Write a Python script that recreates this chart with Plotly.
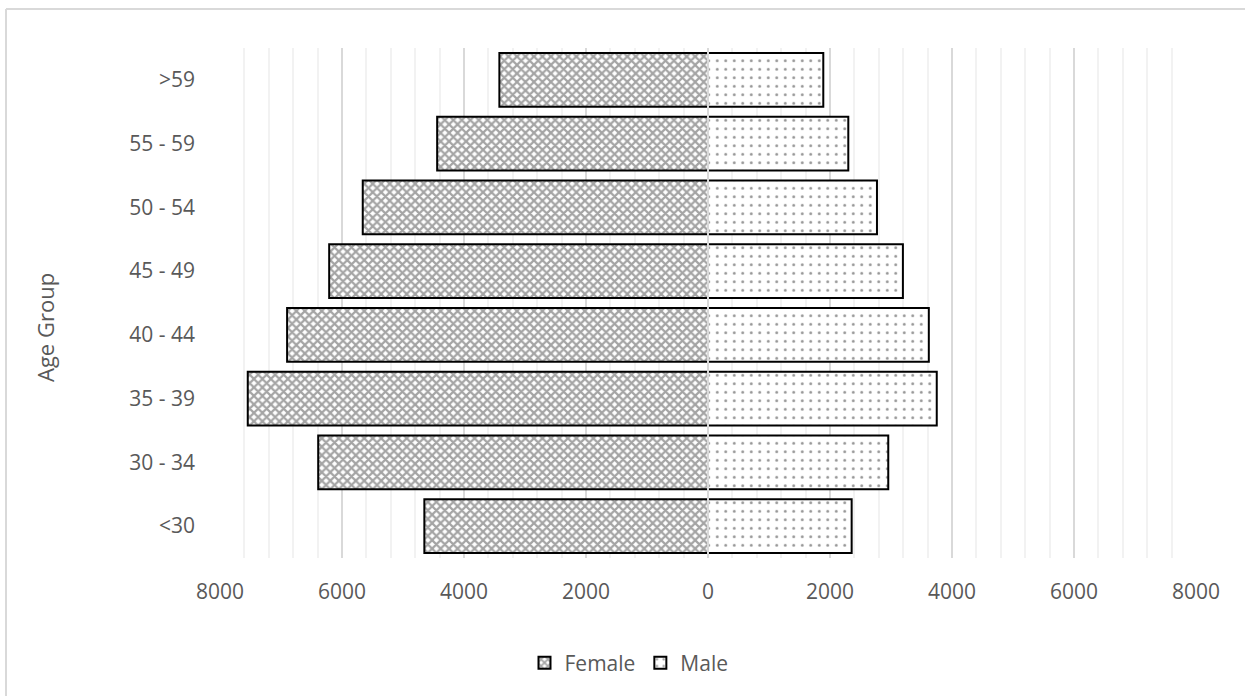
import plotly.graph_objects as go

# Age groups, bottom to top
age_groups = ["<30", "30 - 34", "35 - 39", "40 - 44", "45 - 49", "50 - 54", "55 - 59", ">59"]
female = [4650, 6390, 7545, 6900, 6210, 5660, 4440, 3420]
male = [2355, 2955, 3750, 3620, 3195, 2770, 2300, 1890]

tick_values = [-8000, -6000, -4000, -2000, 0, 2000, 4000, 6000, 8000]
tick_labels = ["8000", "6000", "4000", "2000", "0", "2000", "4000", "6000", "8000"]

FONT = "Open Sans"
TEXT_COLOR = "#595959"
FONT_SIZE = 21

W, H = 1245, 696
ML, MR, MT, MB = 220, 49, 48, 138
PW, PH = W - ML - MR, H - MT - MB


def px_to_paper_x(px):
    return (px - ML) / PW


def px_to_paper_y(py):
    return (H - MB - py) / PH


fig = go.Figure()

fig.add_trace(go.Bar(
    y=age_groups,
    x=[-v for v in female],
    orientation="h",
    name="Female",
    customdata=female,
    hovertemplate="%{y}: %{customdata}<extra>Female</extra>",
    marker=dict(
        color="white",
        line=dict(color="black", width=2),
        pattern=dict(shape="x", size=6, solidity=0.6, fgcolor="#4a4a4a", bgcolor="white"),
    ),
))

fig.add_trace(go.Bar(
    y=age_groups,
    x=male,
    orientation="h",
    name="Male",
    hovertemplate="%{y}: %{x}<extra>Male</extra>",
    marker=dict(
        color="white",
        line=dict(color="black", width=2),
        pattern=dict(shape=".", size=8.5, solidity=0.09, fgcolor="#2a2a2a", bgcolor="white"),
    ),
))

fig.update_layout(
    width=W,
    height=H,
    margin=dict(l=ML, r=MR, t=MT, b=MB),
    paper_bgcolor="white",
    plot_bgcolor="white",
    barmode="relative",
    bargap=0.16,
    font=dict(family=FONT, size=FONT_SIZE, color=TEXT_COLOR),
    showlegend=True,
    legend=dict(
        orientation="h",
        x=px_to_paper_x(629),
        xanchor="center",
        y=px_to_paper_y(663),
        yanchor="middle",
        font=dict(family=FONT, size=FONT_SIZE, color=TEXT_COLOR),
        itemwidth=30,
        traceorder="normal",
    ),
    xaxis=dict(
        range=[-8000, 8000],
        tickvals=tick_values,
        ticktext=tick_labels,
        showgrid=True,
        gridcolor="#d9d9d9",
        gridwidth=2,
        zeroline=False,
        showline=False,
        ticks="",
        ticklabelstandoff=19,
        minor=dict(dtick=400, showgrid=True, gridcolor="#f2f2f2", gridwidth=2),
        fixedrange=True,
    ),
    yaxis=dict(
        categoryorder="array",
        categoryarray=age_groups,
        showgrid=False,
        zeroline=False,
        showline=False,
        ticks="",
        ticklabelstandoff=24,
        fixedrange=True,
    ),
    shapes=[
        # vertical axis line at zero, drawn over the bars
        dict(type="line", xref="x", yref="paper", x0=0, x1=0, y0=0, y1=1,
             line=dict(color="#d9d9d9", width=2), layer="above"),
        # chart frame (top and left edges)
        dict(type="line", xref="paper", yref="paper",
             x0=px_to_paper_x(6), x1=px_to_paper_x(W + 5),
             y0=px_to_paper_y(9), y1=px_to_paper_y(9),
             line=dict(color="#d9d9d9", width=2), layer="below"),
        dict(type="line", xref="paper", yref="paper",
             x0=px_to_paper_x(6), x1=px_to_paper_x(6),
             y0=px_to_paper_y(9), y1=px_to_paper_y(H + 5),
             line=dict(color="#d9d9d9", width=2), layer="below"),
    ],
    annotations=[
        dict(text="Age Group", xref="paper", yref="paper",
             x=px_to_paper_x(45), y=px_to_paper_y(328),
             xanchor="center", yanchor="middle", textangle=-90, showarrow=False,
             font=dict(family=FONT, size=22, color=TEXT_COLOR)),
    ],
)

fig.write_html("out.html")
